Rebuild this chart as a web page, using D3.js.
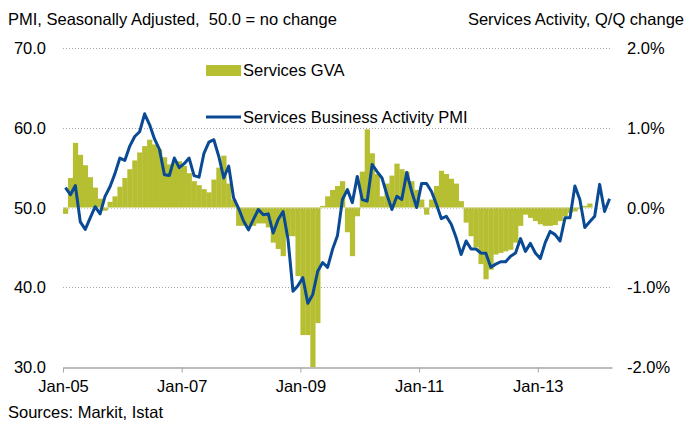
<!DOCTYPE html>
<html>
<head>
<meta charset="utf-8">
<script src="https://cdn.jsdelivr.net/npm/d3@7"></script>
<style>
    body { margin: 0; background: #fff; }
    svg text { font-family: "Liberation Sans", Arial, sans-serif; fill: #000; }
</style>
</head>
<body>
<div id="chart"></div>
<script>
(function () {
    "use strict";

    // months on the category axis, Jan-05 .. Mar-14
    const months = d3.timeMonth.range(new Date(2005, 0, 1), new Date(2014, 3, 1));
    const tickMonths = [0, 24, 48, 72, 96];
    const tickLabels = ["Jan-05", "Jan-07", "Jan-09", "Jan-11", "Jan-13"];
    const leftTicks = [30, 40, 50, 60, 70];
    const rightTicks = [-2, -1, 0, 1, 2];

    // Services GVA, Q/Q % change (right axis)
    const gva = [
        -0.08, 0.37, 0.81, 0.66, 0.53, 0.38, 0.25, 0.11, -0.04, 0.07, 0.14, 0.26,
        0.37, 0.48, 0.59, 0.69, 0.77, 0.85, 0.79, 0.73, 0.63, 0.54, 0.56, 0.58,
        0.52, 0.43, 0.33, 0.28, 0.23, 0.19, 0.35, 0.5, 0.65, 0.3, 0.1, -0.23,
        -0.23, -0.23, -0.23, -0.2, -0.2, -0.25, -0.44, -0.52, -0.61, -0.36, -0.36, -0.86,
        -1.6, -1.6, -2.0, -1.45, 0.02, 0.14, 0.22, 0.27, 0.33, -0.31, -0.61, -0.11,
        0.45, 0.98, 0.68, 0.42, 0.14, 0.3, 0.4, 0.55, 0.48, 0.45, 0.33, 0.22,
        0.1, -0.09, 0.1, 0.27, 0.46, 0.42, 0.36, 0.3, 0.08, -0.19, -0.36, -0.5,
        -0.71, -0.9, -0.78, -0.59, -0.57, -0.55, -0.53, -0.44, -0.23, -0.09, -0.13, -0.17,
        -0.21, -0.23, -0.23, -0.22, -0.17, -0.11, -0.07, -0.05, -0.02, 0.02, 0.05, null,
        null, null, null
    ];

    // Services Business Activity PMI (left axis)
    const pmi = [
        52.5, 51.6, 52.75, 48.2, 47.25, 48.7, 50.1, 49.2, 51.4, 52.6, 54.25, 56.2,
        55.9, 57.7, 58.9, 59.5, 61.75, 60.4, 58.6, 57.3, 54.1, 54.0, 56.2, 55.0,
        55.5, 56.2, 54.0, 53.8, 56.8, 58.2, 58.5, 56.4, 53.7, 55.2, 51.2, 49.9,
        48.3, 47.2, 48.5, 49.75, 49.1, 49.2, 46.8, 48.5, 49.5, 46.0, 39.5, 40.2,
        41.2, 38.0, 39.1, 42.0, 43.1, 42.5, 44.75, 46.5, 51.0, 52.25, 50.6, 53.9,
        51.0, 50.8, 55.4, 54.5, 53.7, 51.6, 49.75, 51.4, 51.0, 54.4, 52.0, 50.0,
        53.0, 53.0, 52.0, 50.4, 48.6, 48.9, 47.9, 46.2, 44.1, 45.8, 44.8, 44.8,
        44.3, 44.25, 42.5, 42.9, 43.2, 43.2, 43.9, 44.3, 46.1, 44.5, 45.5, 44.3,
        43.6, 45.6, 47.0, 46.6, 45.8, 48.7, 48.7, 52.7, 51.0, 47.5, 48.2, 48.9,
        52.9, 49.5, 51.1
    ];

    const width = 695;
    const height = 428;
    const left = 63, right = 612, top = 48, bottom = 367;
    const fontSize = 16.5;

    const svg = d3.select("#chart").append("svg").attr("width", width).attr("height", height);

    const x = d3.scaleLinear().domain([0, months.length]).range([left, right]);
    const yL = d3.scaleLinear().domain([30, 70]).range([bottom, top]);
    const yR = d3.scaleLinear().domain([-2, 2]).range([bottom, top]);

    // dotted gridlines
    svg.append("g")
        .selectAll("line")
        .data(leftTicks.filter((d) => d > 30 && d !== 50))
        .join("line")
        .attr("x1", left)
        .attr("x2", right)
        .attr("y1", (d) => Math.round(yL(d)) + 0.5)
        .attr("y2", (d) => Math.round(yL(d)) + 0.5)
        .attr("stroke", "#a6a6a6")
        .attr("stroke-dasharray", "1,2");

    // GVA bars
    svg.append("g")
        .selectAll("rect")
        .data(gva.map((v, i) => ({ v: v, i: i })).filter((d) => d.v !== null))
        .join("rect")
        .attr("x", (d) => x(d.i))
        .attr("width", (d) => x(d.i + 1) - x(d.i) + 0.3)
        .attr("y", (d) => yR(Math.max(0, d.v)))
        .attr("height", (d) => Math.abs(yR(d.v) - yR(0)))
        .attr("fill", "#b6be32");

    // zero line (50.0) drawn over the bars
    svg.append("line")
        .attr("x1", left)
        .attr("x2", right)
        .attr("y1", Math.round(yL(50)) + 0.5)
        .attr("y2", Math.round(yL(50)) + 0.5)
        .attr("stroke", "#c8c8c8")
        .attr("stroke-dasharray", "1,2");

    // x axis
    const xAxis = d3.axisBottom(x)
        .tickValues(tickMonths)
        .tickFormat((d, i) => tickLabels[i])
        .tickSize(5)
        .tickSizeOuter(0);
    const gx = svg.append("g").attr("transform", `translate(0,${bottom + 0.5})`).call(xAxis);
    gx.select(".domain").attr("stroke", "#a6a6a6").attr("stroke-width", 1.5);
    gx.selectAll(".tick line").attr("stroke", "#a6a6a6");
    gx.selectAll(".tick text").attr("font-size", fontSize).attr("dy", "1.0em").attr("font-family", null);

    // left labels
    svg.append("g")
        .selectAll("text")
        .data(leftTicks)
        .join("text")
        .attr("x", 46)
        .attr("y", (d) => yL(d) + 6)
        .attr("text-anchor", "end")
        .attr("font-size", fontSize)
        .text((d) => d.toFixed(1));

    // right labels
    svg.append("g")
        .selectAll("text")
        .data(rightTicks)
        .join("text")
        .attr("x", 627)
        .attr("y", (d) => yR(d) + 6)
        .attr("font-size", fontSize)
        .text((d) => d.toFixed(1) + "%");

    // PMI line
    const line = d3.line()
        .x((d, i) => x(i + 0.5))
        .y((d) => yL(d));
    svg.append("path")
        .datum(pmi)
        .attr("d", line)
        .attr("fill", "none")
        .attr("stroke", "#0a4a94")
        .attr("stroke-width", 3)
        .attr("stroke-linejoin", "round");

    // titles
    svg.append("text").attr("x", 8).attr("y", 25).attr("font-size", fontSize)
        .attr("xml:space", "preserve")
        .text("PMI, Seasonally Adjusted,  50.0 = no change");
    svg.append("text").attr("x", 684).attr("y", 25).attr("font-size", fontSize).attr("text-anchor", "end")
        .text("Services Activity, Q/Q change");
    svg.append("text").attr("x", 8).attr("y", 418).attr("font-size", fontSize)
        .text("Sources: Markit, Istat");

    // legend
    const legend = svg.append("g");
    legend.append("rect").attr("x", 206).attr("y", 65).attr("width", 35).attr("height", 11).attr("fill", "#b6be32");
    legend.append("text").attr("x", 243).attr("y", 76).attr("font-size", fontSize).text("Services GVA");
    legend.append("line").attr("x1", 206).attr("x2", 241).attr("y1", 117).attr("y2", 117)
        .attr("stroke", "#0a4a94").attr("stroke-width", 3);
    legend.append("text").attr("x", 243).attr("y", 123).attr("font-size", fontSize).text("Services Business Activity PMI");
})();
</script>
</body>
</html>
